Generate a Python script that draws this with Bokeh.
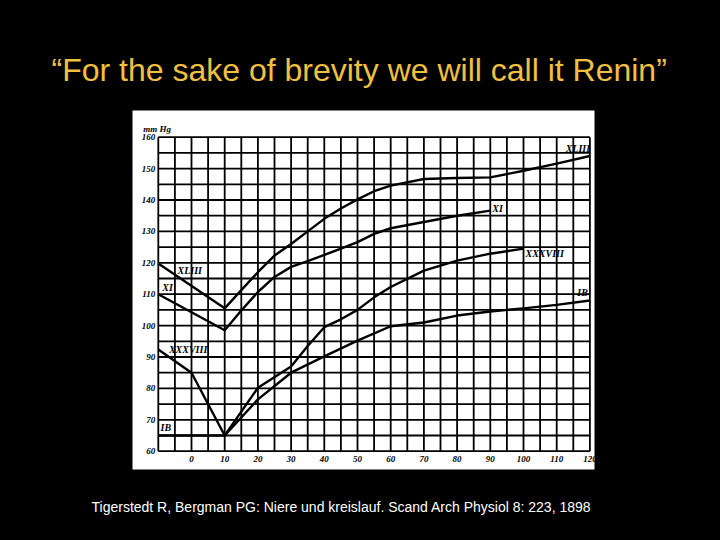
from bokeh.plotting import figure
from bokeh.models import LinearAxis, FixedTicker, Range1d, ColumnDataSource
from bokeh.core.properties import value
from bokeh.embed import file_html
from bokeh.resources import INLINE

# ---------------- data ----------------
title_text = "\u201cFor the sake of brevity we will call it Renin\u201d"
caption_text = "Tigerstedt R, Bergman PG: Niere und kreislauf. Scand Arch Physiol 8: 223, 1898"
y_unit_text = "mm Hg"

x_ticks = [0, 10, 20, 30, 40, 50, 60, 70, 80, 90, 100, 110, 120]
y_ticks = [60, 70, 80, 90, 100, 110, 120, 130, 140, 150, 160]
x_grid = [-10, -5, 0, 5, 10, 15, 20, 25, 30, 35, 40, 45, 50, 55, 60, 65, 70,
          75, 80, 85, 90, 95, 100, 105, 110, 115, 120]
y_grid = [60, 65, 70, 75, 80, 85, 90, 95, 100, 105, 110, 115, 120, 125, 130,
          135, 140, 145, 150, 155, 160]

xliii_x = [-10, 10, 15, 20, 25, 30, 35, 40, 45, 50, 55, 60, 70, 80, 90, 100, 110, 120]
xliii_y = [119.8, 105.5, 111.3, 117, 122.3, 126, 130, 134, 137.3, 140.2, 142.8,
           144.6, 146.7, 147, 147.2, 149.3, 151.6, 154]

xi_x = [-10, 10, 15, 20, 25, 30, 35, 40, 45, 50, 55, 60, 70, 80, 90]
xi_y = [110, 98.5, 104.8, 110.7, 115.5, 118.7, 120.5, 122.5, 124.5, 126.6,
        129.2, 131, 133, 135, 136.6]

xxxviii_x = [-10, 0, 10, 20, 30, 35, 40, 45, 50, 55, 60, 70, 80, 90, 100]
xxxviii_y = [92.4, 85, 65, 80.2, 87, 93.5, 99.5, 102, 105, 109, 112.3, 117.5,
             120.7, 122.9, 124.5]

ib_x = [-10, 10, 20, 30, 40, 50, 60, 70, 80, 90, 100, 110, 120]
ib_y = [65, 65, 76.5, 85, 90.2, 95.2, 99.8, 101, 103.2, 104.5, 105.5, 106.6, 108]

series_names = ["XLIII", "XI", "XXXVIII", "IB"]
label_left_x = [-4.2, -8.8, -6.8, -9.3]
label_left_y = [117.6, 112.0, 92.4, 67.4]
label_right_x = [112.7, 90.6, 100.6, 116.2]
label_right_y = [156.3, 137.2, 123.1, 110.4]

# ---------------- figure ----------------
# 0 -> x 191 px, 3.32 px per unit ; 60 -> y 450.7 px, 3.14 px per unit
X0, SX = 191.0, 3.32
Y0, SY = 450.7, 3.14
W, H = 704, 524

p = figure(width=W, height=H,
           x_range=Range1d(-X0 / SX, (W - X0) / SX),
           y_range=Range1d(60 - (H - Y0) / SY, 60 + Y0 / SY),
           output_backend="svg", toolbar_location=None,
           x_axis_type=None, y_axis_type=None, title=None,
           min_border_left=0, min_border_right=0, min_border_top=0, min_border_bottom=0,
           background_fill_color="black", border_fill_color="black",
           outline_line_color=None)
p.xgrid.visible = False
p.ygrid.visible = False

try:
    from bokeh.models import GlobalInlineStyleSheet
    p.stylesheets = [GlobalInlineStyleSheet(css="html, body { background-color: #000 !important; }")]
except Exception:
    pass

# white chart panel (scan background)
p.quad(left=-17.77, right=121.39, top=168.5, bottom=54.17,
       fill_color="white", line_color=None)

# hand-ruled grid
p.segment(x0=x_grid, x1=x_grid, y0=[y_grid[0]] * len(x_grid), y1=[y_grid[-1]] * len(x_grid),
          line_color="black", line_width=1.8)
p.segment(x0=[x_grid[0]] * len(y_grid), x1=[x_grid[-1]] * len(y_grid), y0=y_grid, y1=y_grid,
          line_color="black", line_width=1.8)

# curves
for xs, ys in [(xliii_x, xliii_y), (xi_x, xi_y), (xxxviii_x, xxxviii_y), (ib_x, ib_y)]:
    p.line(xs, ys, line_color="black", line_width=2.4, line_join="round")

# axes
yax = LinearAxis(fixed_location=x_grid[0], ticker=FixedTicker(ticks=y_ticks))
xax = LinearAxis(fixed_location=y_grid[0], ticker=FixedTicker(ticks=x_ticks))
for ax in (xax, yax):
    ax.axis_line_color = None
    ax.major_tick_line_color = None
    ax.minor_tick_line_color = None
    ax.major_tick_in = 0
    ax.major_tick_out = 0
    ax.major_label_text_font = "Liberation Serif"
    ax.major_label_text_font_style = "bold italic"
    ax.major_label_text_font_size = "9px"
    ax.major_label_text_color = "black"
yax.major_label_standoff = 3
xax.major_label_standoff = 5
p.add_layout(yax, "left")
p.add_layout(xax, "below")

# unit label
p.text(x=[-14.5], y=[162.7], text=[y_unit_text], text_font=value("Liberation Serif"),
       text_font_style="bold italic", text_font_size="9px", text_color="black",
       text_baseline="middle", text_align="left")

# series labels
lab = ColumnDataSource(dict(x=label_left_x + label_right_x,
                            y=label_left_y + label_right_y,
                            t=series_names + series_names))
p.text(x="x", y="y", text="t", source=lab, text_font=value("Liberation Serif"),
       text_font_style="bold italic", text_font_size="10px", text_color="black",
       text_baseline="middle", text_align="left")

# title and caption
p.text(x=[(51 - X0) / SX], y=[60 + (Y0 - 69.5) / SY], text=[title_text],
       text_font=value("Liberation Sans"), text_font_size="32px", text_color="#F0C040",
       text_baseline="alphabetic", text_align="left")
p.text(x=[(91 - X0) / SX], y=[60 - (506 - Y0) / SY], text=[caption_text],
       text_font=value("Liberation Sans"), text_font_size="14px", text_color="white",
       text_baseline="alphabetic", text_align="left")

open("out.html", "w").write(file_html(p, INLINE))
